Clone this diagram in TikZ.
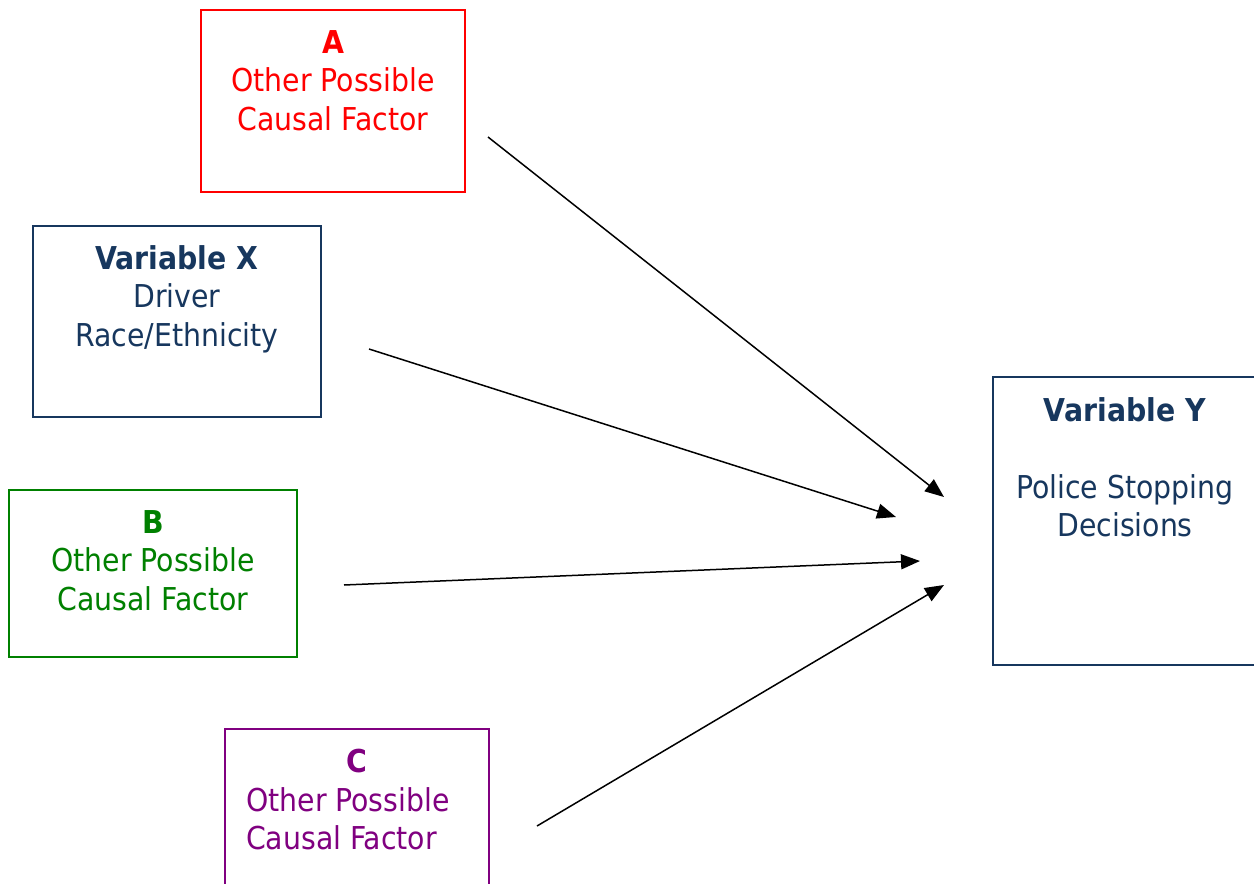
\documentclass[tikz,border=0pt]{standalone}
\usepackage{fontspec}
\setmainfont{DejaVu Sans Condensed}
\usetikzlibrary{arrows.meta}
\definecolor{navy}{HTML}{17375E}
\definecolor{cred}{HTML}{FF0000}
\definecolor{cgreen}{HTML}{008000}
\definecolor{cpurple}{HTML}{800080}
\tikzset{
  box/.style={draw, line width=2pt, rectangle, inner sep=0pt},
  txt/.style={anchor=north, inner sep=0pt, font=\fontsize{31.5}{38.5}\selectfont},
  arr/.style={line width=1.5pt, -{Triangle[length=19pt,width=15pt]}}
}
\begin{document}
\begin{tikzpicture}[x=1pt,y=-1pt]
\useasboundingbox (0,0) rectangle (1254,884);
\clip (0,0) rectangle (1254,884);
\fill[white] (0,0) rectangle (1254,884);
% boxes
\node[box, cred, minimum width=264pt, minimum height=182pt] (A) at (333,101) {};
\node[box, navy, minimum width=288pt, minimum height=191pt] (X) at (177,321.5) {};
\node[box, cgreen, minimum width=288pt, minimum height=167pt] (B) at (153,573.5) {};
\node[box, cpurple, minimum width=264pt, minimum height=190pt] (C) at (357,824) {};
\node[box, navy, minimum width=264pt, minimum height=288pt] (Y) at (1125,521) {};
% texts
\node[txt, cred, align=center] (At) at (333,30) {\textbf{A}\\Other Possible\\Causal Factor};
\node[txt, navy, align=center] (Xt) at (177,245) {\textbf{Variable X}\\Driver\\Race/Ethnicity};
\node[txt, cgreen, align=center] (Bt) at (153,510) {\textbf{B}\\Other Possible\\Causal Factor};
\node[txt, cpurple, align=left, anchor=north west] (Ct) at (246,749) {\hspace*{100pt}\textbf{C}\\Other Possible\\Causal Factor};
\node[txt, navy, align=center] (Yt) at (1125,397) {\textbf{Variable Y}\\[38.5pt]Police Stopping\\Decisions};
% arrow ends
\coordinate (a1) at (488,137);
\coordinate (a2) at (944,497);
\coordinate (x1) at (369,349);
\coordinate (x2) at (896,517);
\coordinate (b1) at (344,585);
\coordinate (b2) at (920,561);
\coordinate (c1) at (537,826);
\coordinate (c2) at (944,585);
\draw[arr] (a1) -- (a2);
\draw[arr] (x1) -- (x2);
\draw[arr] (b1) -- (b2);
\draw[arr] (c1) -- (c2);
\end{tikzpicture}
\end{document}
